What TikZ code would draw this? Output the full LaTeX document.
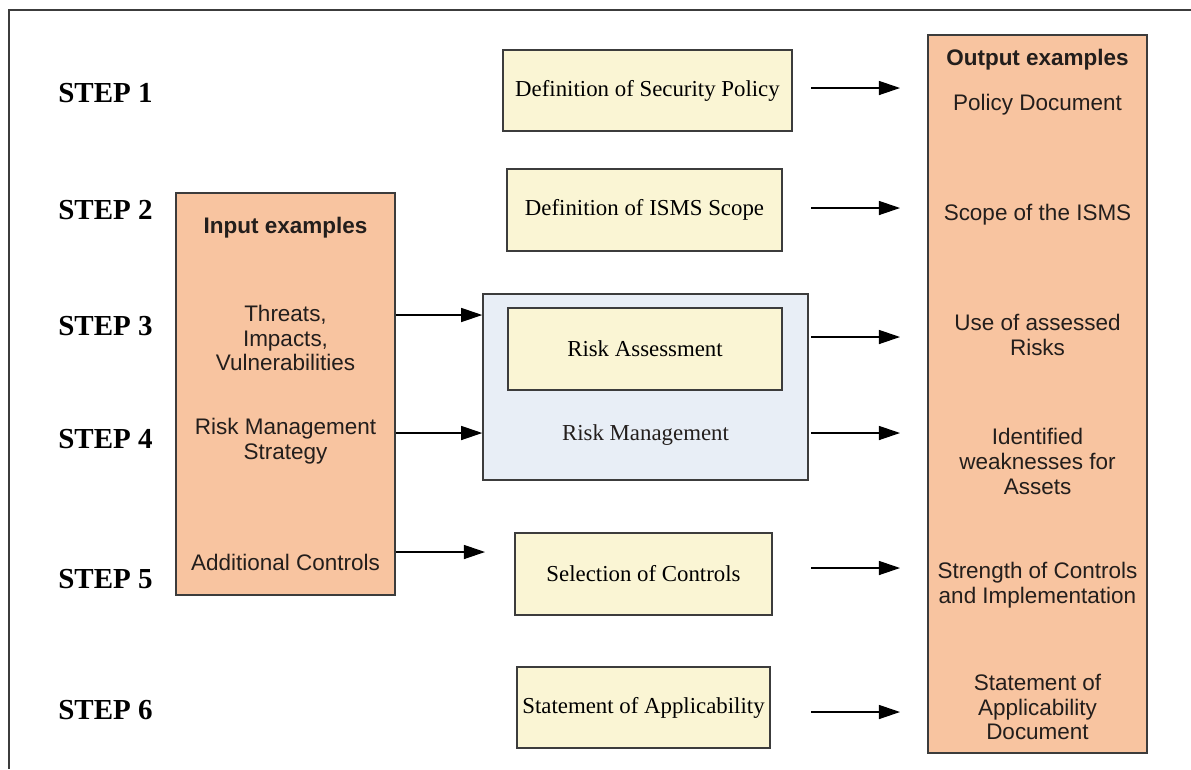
\documentclass[tikz,border=0pt]{standalone}
\usepackage{fontspec}
\setmainfont{Liberation Serif}
\newfontfamily\arialfont{Liberation Sans}
\usetikzlibrary{arrows.meta}
\definecolor{salmon}{RGB}{248,196,160}
\definecolor{pale}{RGB}{250,245,212}
\definecolor{paleblue}{RGB}{232,238,246}
\definecolor{edge}{RGB}{60,60,60}
\definecolor{ink}{RGB}{35,30,28}

\begin{document}
\begin{tikzpicture}[x=0.02cm,y=-0.02cm,
  steplabel/.style={anchor=west, inner sep=0,
    font=\fontsize{16.5}{18}\selectfont\bfseries},
  colbox/.style={draw=edge, line width=0.9pt, fill=salmon, inner sep=0},
  procbox/.style={draw=edge, line width=0.9pt, fill=pale, inner sep=0,
    font=\fontsize{13}{15}\selectfont},
  groupbox/.style={draw=edge, line width=0.9pt, fill=paleblue, inner sep=0},
  coltext/.style={align=center, inner sep=0, text=ink,
    font=\arialfont\fontsize{12.8}{14.2}\selectfont},
  colhead/.style={coltext, font=\arialfont\bfseries\fontsize{12.8}{14.2}\selectfont},
  arr/.style={-{Triangle[length=12pt,width=8pt]}, line width=0.7pt, draw=black}
]
\useasboundingbox (0,0) rectangle (1191,769);

% outer frame (open to the right and bottom)
\coordinate (frTR) at (1191,10);
\coordinate (frTL) at (9,10);
\coordinate (frBL) at (9,769);
\draw[line width=1.1pt, draw=edge] (frTR) -- (frTL) -- (frBL);

% step labels
\node[steplabel] (step1) at (58,93)  {STEP 1};
\node[steplabel] (step2) at (58,210) {STEP 2};
\node[steplabel] (step3) at (58,326) {STEP 3};
\node[steplabel] (step4) at (58,439) {STEP 4};
\node[steplabel] (step5) at (58,579) {STEP 5};
\node[steplabel] (step6) at (58,710) {STEP 6};

% input column
\node[colbox, minimum width=4.38cm, minimum height=8.04cm] (inp) at (285.5,394) {};
\node[colhead] (inhead) at (285.5,228) {Input examples};
\node[coltext] (in3) at (285.5,338) {Threats,\\Impacts,\\Vulnerabilities};
\node[coltext] (in4) at (285.5,441) {Risk Management\\Strategy};
\node[coltext] (in5) at (285.5,562) {Additional Controls};

% output column
\node[colbox, minimum width=4.38cm, minimum height=14.36cm] (out) at (1037.5,394) {};
\node[colhead] (outhead) at (1037.5,60) {Output examples};
\node[coltext] (out1) at (1037.5,105) {Policy Document};
\node[coltext] (out2) at (1037.5,215) {Scope of the ISMS};
\node[coltext] (out3) at (1037.5,335) {Use of assessed\\Risks};
\node[coltext] (out4) at (1037.5,461) {Identified\\weaknesses for\\Assets};
\node[coltext] (out5) at (1037.5,585) {Strength of Controls\\and Implementation};
\node[coltext] (out6) at (1037.5,707) {Statement of\\Applicability\\Document};

% process boxes
\node[procbox, minimum width=5.78cm, minimum height=1.62cm] (pol) at (647.5,90.5) {Definition of Security Policy};
\node[procbox, minimum width=5.50cm, minimum height=1.64cm] (scope) at (644.5,210) {Definition of ISMS Scope};
\node[groupbox, minimum width=6.50cm, minimum height=3.72cm] (rm) at (645.5,387) {};
\node[procbox, minimum width=5.48cm, minimum height=1.64cm] (ra) at (645,349) {Risk Assessment};
\node[inner sep=0, font=\fontsize{13}{15}\selectfont, text=ink] (rmlabel) at (645.5,435) {Risk Management};
\node[procbox, minimum width=5.14cm, minimum height=1.64cm] (sel) at (643.5,574) {Selection of Controls};
\node[procbox, minimum width=5.06cm, minimum height=1.62cm] (soa) at (643.5,707.5) {Statement of Applicability};

% arrow rows
\coordinate (r1) at (0,88);
\coordinate (r2) at (0,208);
\coordinate (r3) at (0,315);
\coordinate (r3o) at (0,337);
\coordinate (r4) at (0,433);
\coordinate (r5) at (0,552);
\coordinate (r5o) at (0,568);
\coordinate (r6) at (0,712);
\coordinate (tipx) at (900,0);
\coordinate (tailx) at (811,0);
\coordinate (seltip) at (485,0);

% inputs into the risk management stage
\draw[arr] (inp.east |- r3) -- (rm.west |- r3);
\draw[arr] (inp.east |- r4) -- (rm.west |- r4);
\draw[arr] (inp.east |- r5) -- (seltip |- r5);

% outputs of each step
\draw[arr] (tailx |- r1) -- (tipx |- r1);
\draw[arr] (tailx |- r2) -- (tipx |- r2);
\draw[arr] (tailx |- r3o) -- (tipx |- r3o);
\draw[arr] (tailx |- r4) -- (tipx |- r4);
\draw[arr] (tailx |- r5o) -- (tipx |- r5o);
\draw[arr] (tailx |- r6) -- (tipx |- r6);
\end{tikzpicture}
\end{document}
